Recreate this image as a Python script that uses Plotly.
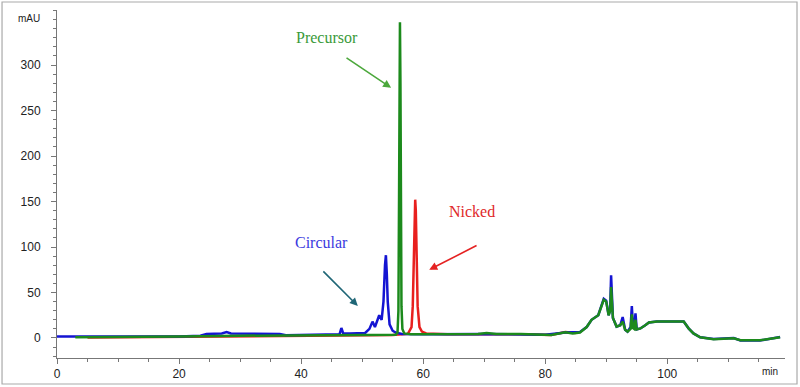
import plotly.graph_objects as go

# ---- data (time in min, absorbance in mAU) ----
green_t = [3, 10, 20, 30, 40, 46, 50, 54, 55.5, 55.8, 55.95, 56.05, 56.12, 56.2, 56.28, 56.36, 56.45, 56.6, 56.9, 58, 62, 66, 69, 70.4, 72, 76, 81,
           83.3, 84.5, 85.7, 86.8, 87.6, 88.7, 89.6, 90.0, 90.4, 90.65, 90.8, 90.95, 91.1, 91.7, 92.3, 92.7, 93.1, 93.5, 94.0, 94.2,
           94.4, 94.6, 94.8, 95.0, 95.6, 96.4, 97.0, 98.3, 102.7, 103.5, 104.3, 105.4, 107.6, 110.9, 112.0, 115.2, 118.5]
green_v = [0.8, 1, 1.5, 2.5, 3, 3, 3, 3, 3.5, 6, 30, 150, 300, 347, 280, 120, 35, 10, 5, 4, 4, 4.2, 4.5, 5.5, 4.5, 4.4, 3.3,
           6.2, 5, 6, 12, 20, 25, 42, 40, 25, 30, 56, 30, 22, 12.5, 14, 18, 9, 7, 10, 26,
           11, 10, 20, 9.5, 10.5, 14, 17, 18, 18, 10.6, 5, 0.7, -1.5, -0.4, -2.5, -2.5, 0.8]

red_t = [5, 10, 20, 30, 40, 50, 55, 57.5, 58.1, 58.3, 58.5, 58.6, 58.7, 58.8, 58.9, 59.1, 59.4, 59.8, 60.5, 64, 70, 76, 81, 83.3, 85]
red_v = [0.5, 0.8, 1.5, 2.2, 2.8, 3, 3.2, 4.5, 12, 35, 100, 140, 152, 140, 95, 35, 12, 7, 5, 4.2, 4.2, 4.2, 3.2, 6.5, 5.5]

blue_t = [0, 3, 10, 20, 23.5, 24.5, 27, 27.8, 28.5, 33, 36.5, 37.5, 45, 46.3, 46.6, 46.9, 48, 50.5, 51.2, 51.7, 52.1, 52.8, 53.2,
          53.5, 53.75, 53.9, 54.05, 54.2, 54.5, 55, 55.5, 56.5, 60, 70, 80, 83.3, 85.7, 86.8, 87.6, 88.7, 89.6, 90.0, 90.4, 90.65,
          90.8, 90.95, 91.1, 91.7, 92.3, 92.7, 93.1, 93.5, 94.0, 94.2, 94.4, 94.6, 94.8, 95.0, 95.6, 96.4, 97.0, 98.3, 102.7,
          103.5, 104.3, 105.4, 107.6, 110.9, 112.0, 115.2, 118.5]
blue_v = [1.5, 1.5, 1, 1.5, 2.5, 4.5, 5, 6.5, 5, 5, 4.5, 3, 3.5, 4, 11, 5, 5, 5.5, 10, 18, 12, 25, 20,
          40, 80, 91, 70, 40, 15, 8, 6, 4.5, 4, 4.5, 3.5, 6, 6.5, 12, 20, 25, 43, 41, 25, 32,
          69, 30, 22, 12.5, 14, 23, 9, 7, 12, 35, 11, 12, 27, 9.5, 10.5, 14, 17, 18, 18,
          10.6, 5, 0.7, -1.2, 0, -2.8, -2.8, 1]

x_ticks = [0, 20, 40, 60, 80, 100]
y_ticks = [0, 50, 100, 150, 200, 250, 300]

fig = go.Figure()
fig.add_trace(go.Scatter(x=red_t, y=red_v, mode="lines", line=dict(color="#e8201e", width=2.5), name="Nicked"))
fig.add_trace(go.Scatter(x=blue_t, y=blue_v, mode="lines", line=dict(color="#1414d2", width=2.5), name="Circular"))
fig.add_trace(go.Scatter(x=green_t, y=green_v, mode="lines", line=dict(color="#1c8a1c", width=2.5), name="Precursor"))

serif = "Liberation Serif, Times New Roman, serif"
ann = [
    dict(x=44.3, y=330, text="Precursor", showarrow=False, font=dict(family=serif, size=16, color="#3a9a3a")),
    dict(x=54.75, y=275, ax=47.2, ay=309, axref="x", ayref="y", text="", showarrow=True,
         arrowhead=2, arrowsize=1, arrowwidth=1.6, arrowcolor="#4ca83c"),
    dict(x=68.0, y=139, text="Nicked", showarrow=False, font=dict(family=serif, size=16, color="#e02828")),
    dict(x=61.0, y=75, ax=69.0, ay=102.4, axref="x", ayref="y", text="", showarrow=True,
         arrowhead=2, arrowsize=1, arrowwidth=1.6, arrowcolor="#e52222"),
    dict(x=43.4, y=104.6, text="Circular", showarrow=False, font=dict(family=serif, size=16, color="#3a3ae0")),
    dict(x=49.3, y=35.2, ax=43.4, ay=74.9, axref="x", ayref="y", text="", showarrow=True,
         arrowhead=2, arrowsize=1, arrowwidth=1.6, arrowcolor="#1f6676"),
    dict(x=-0.0385, y=0.977, xref="paper", yref="paper", text="mAU", showarrow=False, xanchor="center", yanchor="middle",
         font=dict(family="Liberation Sans, Arial", size=10, color="#222")),
    dict(x=0.98, y=-0.04, xref="paper", yref="paper", text="min", showarrow=False, xanchor="center", yanchor="middle",
         font=dict(family="Liberation Sans, Arial", size=10, color="#222")),
]

fig.update_layout(
    width=800, height=387,
    margin=dict(l=57, r=15, t=10, b=29),
    paper_bgcolor="white", plot_bgcolor="white",
    showlegend=False,
    annotations=ann,
    font=dict(family="Liberation Sans, Arial", size=12, color="#222"),
    shapes=[dict(type="rect", xref="paper", yref="paper", x0=-0.0755, x1=1.0165, y0=-0.0747, y1=1.023,
                 line=dict(color="#aaaaaa", width=1.2), layer="above")],
)
fig.update_xaxes(range=[0, 119.3], tickvals=x_ticks, ticks="outside", ticklen=5, tickcolor="#777",
                 showline=True, linecolor="#777", linewidth=1, showgrid=False, zeroline=False, automargin=False,
                 minor=dict(dtick=5, ticks="outside", ticklen=3, tickcolor="#777"),
                 tickfont=dict(size=12, color="#222"))
fig.update_yaxes(range=[-22, 360.5], tickvals=y_ticks, ticks="outside", ticklen=5, tickcolor="#777",
                 showline=True, linecolor="#777", linewidth=1, showgrid=False, zeroline=False, automargin=False,
                 minor=dict(dtick=10, ticks="outside", ticklen=3, tickcolor="#777"),
                 tickfont=dict(size=12, color="#222"), ticklabelstandoff=8)

fig.write_html("out.html", config={"displayModeBar": False},
               post_script="document.body.style.margin='0px';")
